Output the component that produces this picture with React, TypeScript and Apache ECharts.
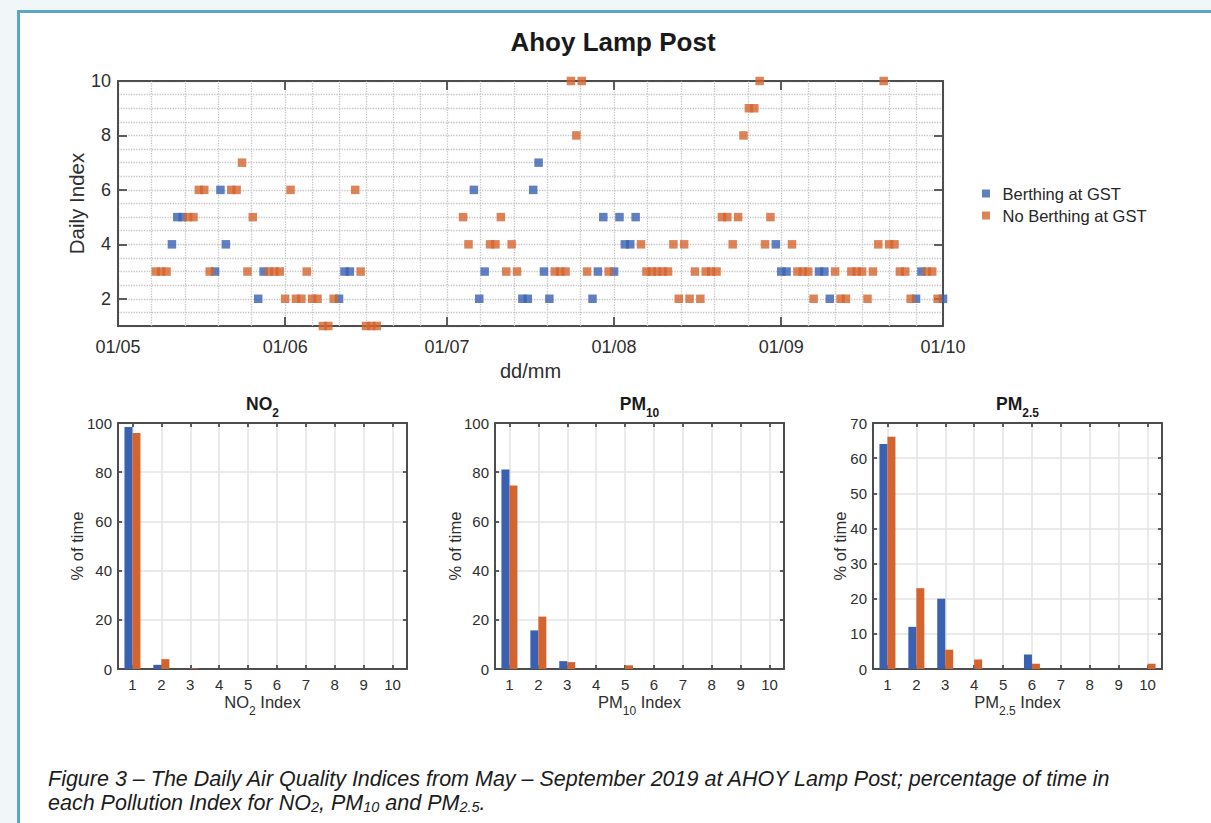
import React, { useEffect, useRef } from 'react';
import * as echarts from 'echarts';

// ---------- data ----------
const axisStart = '2019-05-01';
const axisEnd = '2019-10-01';

const berthing: [string, number][] = [
  ['2019-05-11', 4], ['2019-05-12', 5], ['2019-05-13', 5], ['2019-05-19', 3], ['2019-05-20', 6],
  ['2019-05-21', 4], ['2019-05-27', 2], ['2019-05-28', 3], ['2019-06-11', 2], ['2019-06-12', 3],
  ['2019-06-13', 3], ['2019-07-06', 6], ['2019-07-07', 2], ['2019-07-08', 3], ['2019-07-15', 2],
  ['2019-07-16', 2], ['2019-07-17', 6], ['2019-07-18', 7], ['2019-07-19', 3], ['2019-07-20', 2],
  ['2019-07-28', 2], ['2019-07-29', 3], ['2019-07-30', 5], ['2019-08-01', 3], ['2019-08-02', 5],
  ['2019-08-03', 4], ['2019-08-04', 4], ['2019-08-05', 5], ['2019-08-31', 4], ['2019-09-01', 3],
  ['2019-09-02', 3], ['2019-09-08', 3], ['2019-09-09', 3], ['2019-09-10', 2], ['2019-09-26', 2],
  ['2019-09-27', 3], ['2019-10-01', 2],
];

const noBerthing: [string, number][] = [
  ['2019-05-08', 3], ['2019-05-09', 3], ['2019-05-10', 3], ['2019-05-14', 5], ['2019-05-15', 5],
  ['2019-05-16', 6], ['2019-05-17', 6], ['2019-05-18', 3], ['2019-05-22', 6], ['2019-05-23', 6],
  ['2019-05-24', 7], ['2019-05-25', 3], ['2019-05-26', 5], ['2019-05-29', 3], ['2019-05-30', 3],
  ['2019-05-31', 3], ['2019-06-01', 2], ['2019-06-02', 6], ['2019-06-03', 2], ['2019-06-04', 2],
  ['2019-06-05', 3], ['2019-06-06', 2], ['2019-06-07', 2], ['2019-06-08', 1], ['2019-06-09', 1],
  ['2019-06-10', 2], ['2019-06-14', 6], ['2019-06-15', 3], ['2019-06-16', 1], ['2019-06-17', 1],
  ['2019-06-18', 1], ['2019-07-04', 5], ['2019-07-05', 4], ['2019-07-09', 4], ['2019-07-10', 4],
  ['2019-07-11', 5], ['2019-07-12', 3], ['2019-07-13', 4], ['2019-07-14', 3], ['2019-07-21', 3],
  ['2019-07-22', 3], ['2019-07-23', 3], ['2019-07-24', 10], ['2019-07-25', 8], ['2019-07-26', 10],
  ['2019-07-27', 3], ['2019-07-31', 3], ['2019-08-06', 4], ['2019-08-07', 3], ['2019-08-08', 3],
  ['2019-08-09', 3], ['2019-08-10', 3], ['2019-08-11', 3], ['2019-08-12', 4], ['2019-08-13', 2],
  ['2019-08-14', 4], ['2019-08-15', 2], ['2019-08-16', 3], ['2019-08-17', 2], ['2019-08-18', 3],
  ['2019-08-19', 3], ['2019-08-20', 3], ['2019-08-21', 5], ['2019-08-22', 5], ['2019-08-23', 4],
  ['2019-08-24', 5], ['2019-08-25', 8], ['2019-08-26', 9], ['2019-08-27', 9], ['2019-08-28', 10],
  ['2019-08-29', 4], ['2019-08-30', 5], ['2019-09-03', 4], ['2019-09-04', 3], ['2019-09-05', 3],
  ['2019-09-06', 3], ['2019-09-07', 2], ['2019-09-11', 3], ['2019-09-12', 2], ['2019-09-13', 2],
  ['2019-09-14', 3], ['2019-09-15', 3], ['2019-09-16', 3], ['2019-09-17', 2], ['2019-09-18', 3],
  ['2019-09-19', 4], ['2019-09-20', 10], ['2019-09-21', 4], ['2019-09-22', 4], ['2019-09-23', 3],
  ['2019-09-24', 3], ['2019-09-25', 2], ['2019-09-28', 3], ['2019-09-29', 3], ['2019-09-30', 2],
];

const minorGridDates = [
  '2019-05-07 04:48', '2019-05-13 09:36', '2019-05-19 14:24', '2019-05-25 19:12',
  '2019-06-06', '2019-06-11', '2019-06-16', '2019-06-21', '2019-06-26',
  '2019-07-07 04:48', '2019-07-13 09:36', '2019-07-19 14:24', '2019-07-25 19:12',
  '2019-08-07 04:48', '2019-08-13 09:36', '2019-08-19 14:24', '2019-08-25 19:12',
  '2019-09-06', '2019-09-11', '2019-09-16', '2019-09-21', '2019-09-26',
];

const indexCategories = [1, 2, 3, 4, 5, 6, 7, 8, 9, 10];
const no2Berthing = [98.4, 1.7, 0, 0, 0, 0, 0, 0, 0, 0];
const no2NoBerthing = [95.9, 4.0, 0.3, 0, 0, 0, 0, 0, 0, 0];
const pm10Berthing = [81.1, 15.7, 3.2, 0, 0, 0, 0, 0, 0, 0];
const pm10NoBerthing = [74.6, 21.3, 2.8, 0, 1.5, 0, 0, 0, 0, 0];
const pm25Berthing = [64.0, 12.0, 20.0, 0, 0, 4.1, 0, 0, 0, 0];
const pm25NoBerthing = [66.1, 23.0, 5.5, 2.7, 0, 1.5, 0, 0, 0, 1.5];

const seriesNames = ['Berthing at GST', 'No Berthing at GST'];

// ---------- style ----------
const FONT = '"Liberation Sans", Arial, Helvetica, sans-serif';
const AXIS_COLOR = '#4d4d4d';
const LABEL_COLOR = '#2e2e2e';
const BLUE = '#3a60b2';
const ORANGE = '#d4642e';
const DAY = 24 * 3600 * 1000;

const ts = (s: string) => echarts.time.parse(s).getTime();
const pad = (n: number) => (n < 10 ? '0' + n : '' + n);

const dotted = { type: 'dotted', color: '#c4c4c4', width: 1.3 };
const solidGrid = { type: 'solid', color: '#e3e3e3', width: 1.5 };

const subRich = (size: number, bold: boolean) => ({
  m: { fontSize: size, fontWeight: bold ? 'bold' : 'normal', color: bold ? '#1a1a1a' : LABEL_COLOR, lineHeight: size + 2, padding: [0, 0, 6, 0], verticalAlign: 'bottom', fontFamily: FONT },
  s: { fontSize: Math.round(size * 0.7), fontWeight: bold ? 'bold' : 'normal', color: bold ? '#1a1a1a' : LABEL_COLOR, lineHeight: size + 1, verticalAlign: 'bottom', fontFamily: FONT },
});

const barGrids = [
  { left: 118, title: '{m|NO}{s|2}', xname: '{m|NO}{s|2}{m| Index}', max: 100, interval: 20, nameGap: 33, a: no2Berthing, b: no2NoBerthing },
  { left: 495, title: '{m|PM}{s|10}', xname: '{m|PM}{s|10}{m| Index}', max: 100, interval: 20, nameGap: 32, a: pm10Berthing, b: pm10NoBerthing },
  { left: 873, title: '{m|PM}{s|2.5}', xname: '{m|PM}{s|2.5}{m| Index}', max: 70, interval: 10, nameGap: 25, a: pm25Berthing, b: pm25NoBerthing },
];
const BAR_W = 289;

function buildOption() {
  const grid: any[] = [{ left: 118, top: 81, width: 825, height: 245 }];
  const xAxis: any[] = [];
  const yAxis: any[] = [];
  const series: any[] = [];
  const title: any[] = [
    { text: 'Ahoy Lamp Post', left: 613, top: 29, textAlign: 'center', padding: 0,
      textStyle: { fontSize: 26, fontWeight: 'bold', color: '#1a1a1a', fontFamily: FONT } },
  ];

  const tickInside = (len: number) => ({ show: true, inside: true, length: len, lineStyle: { color: AXIS_COLOR, width: 1.8 } });
  const line = { show: true, onZero: false, lineStyle: { color: AXIS_COLOR, width: 2 } };

  // top chart axes
  xAxis.push({
    type: 'time', gridIndex: 0, position: 'bottom', min: ts(axisStart), max: ts(axisEnd),
    minInterval: 28 * DAY, maxInterval: 31 * DAY,
    axisLine: line, axisTick: tickInside(9),
    axisLabel: {
      fontSize: 18, color: LABEL_COLOR, margin: 12, showMinLabel: true, showMaxLabel: true, hideOverlap: false,
      formatter: (v: number) => { const d = new Date(v); return pad(d.getDate()) + '/' + pad(d.getMonth() + 1); },
    },
    splitLine: { show: true, lineStyle: dotted },
    name: 'dd/mm', nameLocation: 'middle', nameGap: 35, nameMoveOverlap: false,
    nameTextStyle: { fontSize: 20, color: LABEL_COLOR, fontFamily: FONT },
  });
  xAxis.push({
    type: 'time', gridIndex: 0, position: 'top', min: ts(axisStart), max: ts(axisEnd),
    minInterval: 28 * DAY, maxInterval: 31 * DAY,
    axisLine: line, axisTick: tickInside(9), axisLabel: { show: false }, splitLine: { show: false },
  });
  yAxis.push({
    type: 'value', gridIndex: 0, position: 'left', min: 1, max: 10, splitNumber: 5,
    axisLine: line, axisTick: tickInside(9),
    axisLabel: { fontSize: 18, color: LABEL_COLOR, margin: 7, showMinLabel: false },
    splitLine: { show: true, lineStyle: dotted },
    minorTick: { show: false, splitNumber: 4 },
    minorSplitLine: { show: true, lineStyle: dotted },
    name: 'Daily Index', nameLocation: 'middle', nameGap: 31, nameMoveOverlap: false,
    nameTextStyle: { fontSize: 20.5, color: LABEL_COLOR, fontFamily: FONT },
  });
  yAxis.push({
    type: 'value', gridIndex: 0, position: 'right', min: 1, max: 10, splitNumber: 5,
    axisLine: line, axisTick: tickInside(9), axisLabel: { show: false, showMinLabel: false }, splitLine: { show: false },
  });

  series.push({
    name: seriesNames[0], type: 'scatter', xAxisIndex: 0, yAxisIndex: 0, symbol: 'rect', symbolSize: 8.5,
    itemStyle: { color: BLUE }, data: berthing, z: 2,
    markLine: {
      silent: true, symbol: ['none', 'none'], z: 1, label: { show: false }, emphasis: { disabled: true },
      lineStyle: dotted, animation: false,
      data: minorGridDates.map((d) => ({ xAxis: ts(d) })),
    },
  });
  series.push({
    name: seriesNames[1], type: 'scatter', xAxisIndex: 0, yAxisIndex: 0, symbol: 'rect', symbolSize: 8.5,
    itemStyle: { color: ORANGE }, data: noBerthing, z: 3,
  });

  // bar charts
  barGrids.forEach((g, i) => {
    const gi = i + 1;
    grid.push({ left: g.left, top: 423, width: BAR_W, height: 246 });
    const xi = xAxis.length;
    const yi = yAxis.length;
    xAxis.push({
      type: 'value', gridIndex: gi, position: 'bottom', min: 0.5, max: 10.5, splitNumber: 10,
      axisLine: line, axisTick: tickInside(4),
      axisLabel: { fontSize: 15, color: LABEL_COLOR, margin: 8, showMinLabel: false, showMaxLabel: false },
      splitLine: { show: true, lineStyle: solidGrid },
      name: g.xname, nameLocation: 'middle', nameGap: 29, nameMoveOverlap: false,
      nameTextStyle: { fontSize: 16.5, color: LABEL_COLOR, rich: subRich(16.5, false) },
    });
    xAxis.push({
      type: 'value', gridIndex: gi, position: 'top', min: 0.5, max: 10.5, splitNumber: 10,
      axisLine: line, axisTick: tickInside(4), axisLabel: { show: false }, splitLine: { show: false },
    });
    yAxis.push({
      type: 'value', gridIndex: gi, position: 'left', min: 0, max: g.max, interval: g.interval,
      axisLine: line, axisTick: tickInside(4),
      axisLabel: { fontSize: 15, color: LABEL_COLOR, margin: 6 },
      splitLine: { show: true, lineStyle: solidGrid },
      name: '% of time', nameLocation: 'middle', nameGap: g.nameGap, nameMoveOverlap: false,
      nameTextStyle: { fontSize: 16.5, color: LABEL_COLOR, fontFamily: FONT },
    });
    yAxis.push({
      type: 'value', gridIndex: gi, position: 'right', min: 0, max: g.max, interval: g.interval,
      axisLine: line, axisTick: tickInside(4), axisLabel: { show: false }, splitLine: { show: false },
    });
    series.push({
      name: seriesNames[0], type: 'bar', xAxisIndex: xi, yAxisIndex: yi, barWidth: 8, barGap: '0%',
      itemStyle: { color: BLUE }, data: indexCategories.map((c, k) => [c, g.a[k]]),
    });
    series.push({
      name: seriesNames[1], type: 'bar', xAxisIndex: xi, yAxisIndex: yi, barWidth: 8, barGap: '0%',
      itemStyle: { color: ORANGE }, data: indexCategories.map((c, k) => [c, g.b[k]]),
    });
    title.push({
      text: g.title, left: g.left + BAR_W / 2, top: 399, textAlign: 'center', padding: 0,
      textStyle: { rich: subRich(17.5, true) },
    });
  });

  const capFont = 21.5;
  const graphic: any[] = [
    {
      type: 'text', x: 48, y: 779, silent: true,
      style: {
        text: 'Figure 3 – The Daily Air Quality Indices from May – September 2019 at AHOY Lamp Post; percentage of time in',
        fill: '#1c1c1c', font: `italic ${capFont}px ${FONT}`, verticalAlign: 'middle',
      },
    },
    {
      type: 'text', x: 48, y: 802, silent: true,
      style: {
        text: '{n|each Pollution Index for NO}{s|2}{n|, PM}{s|10}{n| and PM}{s|2.5}{n|.}',
        fill: '#1c1c1c', verticalAlign: 'middle',
        rich: {
          n: { fontSize: capFont, fontStyle: 'italic', fontFamily: FONT, fill: '#1c1c1c', lineHeight: 24, verticalAlign: 'bottom' },
          s: { fontSize: 14.5, fontStyle: 'italic', fontFamily: FONT, fill: '#1c1c1c', lineHeight: 16, verticalAlign: 'bottom' },
        },
      },
    },
  ];

  return {
    animation: false,
    backgroundColor: 'transparent',
    textStyle: { fontFamily: FONT },
    title,
    legend: {
      left: 982, top: 185, orient: 'vertical', itemWidth: 23, itemHeight: 8, itemGap: 5, padding: 0,
      icon: 'path://M0,0H10V10H0Z', data: seriesNames,
      textStyle: { fontSize: 16.5, color: '#262626', lineHeight: 16, fontFamily: FONT },
    },
    grid,
    xAxis,
    yAxis,
    series,
    graphic,
  };
}

export default function App() {
  const ref = useRef<HTMLDivElement>(null);
  useEffect(() => {
    if (!ref.current) return;
    const chart = echarts.init(ref.current, undefined, { renderer: 'svg' });
    chart.setOption(buildOption() as any);
    return () => chart.dispose();
  }, []);
  return (
    <div style={{ position: 'fixed', left: 0, top: 0, width: 1211, height: 823, background: '#f1f7f8', overflow: 'hidden' }}>
      <div style={{ position: 'absolute', left: 17, top: 10, width: 1300, height: 900, border: '3px solid #5ba6c6', background: '#ffffff' }} />
      <div ref={ref} style={{ position: 'absolute', left: 0, top: 0, width: 1211, height: 823 }} />
    </div>
  );
}
